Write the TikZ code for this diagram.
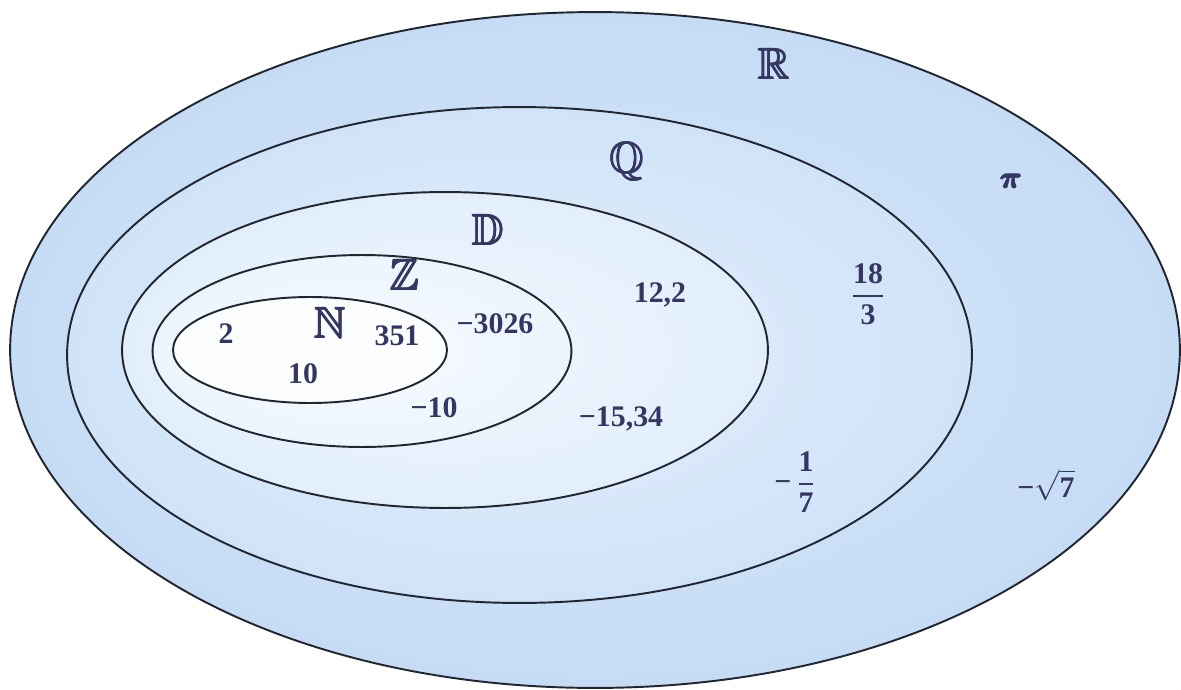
\documentclass[tikz,border=0pt]{standalone}
\usepackage{amsmath,amssymb}
\usepackage{fontspec}
\setmainfont{Liberation Serif}
\definecolor{ink}{RGB}{54,54,98}
\definecolor{rimc}{RGB}{34,38,48}
\definecolor{rOut}{RGB}{198,220,245}
\definecolor{rIn}{RGB}{214,232,250}
\definecolor{qOut}{RGB}{208,227,248}
\definecolor{qIn}{RGB}{228,240,252}
\definecolor{dOut}{RGB}{226,239,251}
\definecolor{dIn}{RGB}{240,247,254}
\definecolor{zOut}{RGB}{236,245,253}
\definecolor{zIn}{RGB}{246,250,254}
\definecolor{nFill}{RGB}{251,253,255}
\newcommand{\myfrac}[2]{$\displaystyle{\textbf{#1}\above 1.4pt\textbf{#2}}$}
\newcommand{\heavy}[1]{\rlap{\kern0.7pt#1}\rlap{\kern0.35pt\raisebox{0.5pt}{#1}}\rlap{\kern0.35pt\raisebox{-0.5pt}{#1}}\rlap{\raisebox{0.3pt}{#1}}#1\kern0.7pt}
\begin{document}
\begin{tikzpicture}[x=0.02cm,y=-0.02cm,
  rim/.style={draw=rimc,line width=1.1pt},
  num/.style={text=ink,font=\fontsize{17}{20}\selectfont\bfseries,inner sep=0pt},
  setl/.style={text=ink,font=\fontsize{25}{30}\selectfont,inner sep=0pt}]
\useasboundingbox (0,0) rectangle (1181,690);
% nested sets
\shadedraw[rim,inner color=rIn,outer color=rOut] (595,350) ellipse [x radius=11.7cm,y radius=6.76cm];
\shadedraw[rim,inner color=qIn,outer color=qOut] (519.5,355) ellipse [x radius=9.05cm,y radius=4.96cm];
\shadedraw[rim,inner color=dIn,outer color=dOut] (445,350) ellipse [x radius=6.46cm,y radius=3.16cm];
\shadedraw[rim,inner color=zIn,outer color=zOut] (362,351) ellipse [x radius=4.19cm,y radius=1.92cm];
\filldraw[rim,fill=nFill] (310,350) ellipse [x radius=2.74cm,y radius=1.06cm];
% set names
\node[setl,anchor=base] (lR) at (774,79) {\heavy{$\mathbb{R}$}};
\node[setl,anchor=base] (lQ) at (627,173) {\heavy{$\mathbb{Q}$}};
\node[setl,anchor=base] (lD) at (488,245) {\heavy{$\mathbb{D}$}};
\node[setl,anchor=base] (lZ) at (405,290) {\heavy{$\mathbb{Z}$}};
\node[setl,anchor=base] (lN) at (330,338) {\heavy{$\mathbb{N}$}};
% elements
\node[num,anchor=base] (e2) at (226,343) {2};
\node[num,anchor=base] (e351) at (397,345) {351};
\node[num,anchor=base] (e10) at (303,383) {10};
\node[num,anchor=base] (em3026) at (495,333) {−3026};
\node[num,anchor=base] (em10) at (434,417) {−10};
\node[num,anchor=base] (e122) at (660,302) {12,2};
\node[num,anchor=base] (em1534) at (621,426) {−15,34};
\node[num] (e183) at (868,294) {\myfrac{18}{3}};
\node[num] (em17) at (795,482) {−\,\myfrac{1}{7}};
\node[num,anchor=base] (epi) at (1011,188) {\heavy{$\boldsymbol{\pi}$}};
\node[num,anchor=base] (ems7) at (1046,497) {−$\sqrt{\textbf{7}}$};
\end{tikzpicture}
\end{document}
